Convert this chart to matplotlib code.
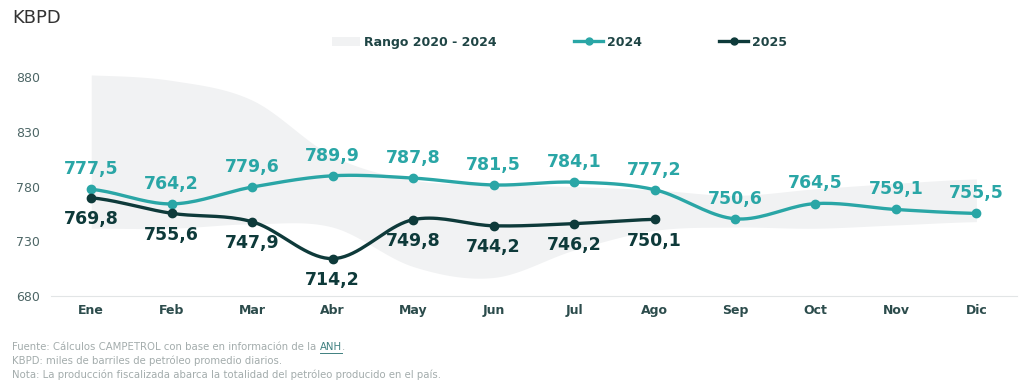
#Import packages
import numpy as np
import matplotlib
matplotlib.use('Agg')
import matplotlib.pyplot as plt
from matplotlib.patches import Patch
from matplotlib.lines import Line2D

#Data
months = ['Ene', 'Feb', 'Mar', 'Abr', 'May', 'Jun', 'Jul', 'Ago', 'Sep', 'Oct', 'Nov', 'Dic']
prod_2024 = [777.5, 764.2, 779.6, 789.9, 787.8, 781.5, 784.1, 777.2, 750.6, 764.5, 759.1, 755.5]
prod_2025 = [769.8, 755.6, 747.9, 714.2, 749.8, 744.2, 746.2, 750.1]
range_max = [882, 877, 859, 808, 786, 782, 780, 777, 772, 778, 783, 787]
range_min = [742, 742, 746, 743, 707, 697, 722, 740, 743, 742, 745, 748]

#Colors
teal = '#2aa6a6'
dark = '#0e3a3a'
band = '#f1f2f3'
label_col = '#2c4c4c'


def smooth(y, n=20):
	#Catmull-Rom curve through the points (just for drawing)
	y = np.asarray(y, dtype=float)
	x = np.arange(len(y), dtype=float)
	p = np.concatenate([[y[0]], y, [y[-1]]])
	xs, ys = [], []
	for i in range(len(y) - 1):
		t = np.linspace(0, 1, n, endpoint=False)
		p0, p1, p2, p3 = p[i], p[i + 1], p[i + 2], p[i + 3]
		yy = 0.5 * ((2 * p1) + (-p0 + p2) * t + (2 * p0 - 5 * p1 + 4 * p2 - p3) * t ** 2
			+ (-p0 + 3 * p1 - 3 * p2 + p3) * t ** 3)
		xs.append(x[i] + t)
		ys.append(yy)
	xs.append([x[-1]])
	ys.append([y[-1]])
	return np.concatenate(xs), np.concatenate(ys)


def main():
	fig = plt.figure(figsize=(10.24, 3.85), dpi=100)
	ax = fig.add_axes([0.0498, 0.231, 0.943, 0.597])

	#Range band
	bx, bmax = smooth(range_max)
	_, bmin = smooth(range_min)
	ax.fill_between(bx, bmin, bmax, color=band, lw=0, zorder=1)

	#2024 line
	x24, y24 = smooth(prod_2024)
	ax.plot(x24, y24, color=teal, lw=2.4, zorder=3)
	ax.plot(range(len(prod_2024)), prod_2024, 'o', color=teal, ms=6, zorder=4)
	for i, v in enumerate(prod_2024):
		ax.annotate(f'{v:.1f}'.replace('.', ','), (i, v), xytext=(0, 8), textcoords='offset points',
			ha='center', va='bottom', color=teal, fontsize=12.5, fontweight='bold')

	#2025 line
	x25, y25 = smooth(prod_2025)
	ax.plot(x25, y25, color=dark, lw=2.4, zorder=5)
	ax.plot(range(len(prod_2025)), prod_2025, 'o', color=dark, ms=6, zorder=6)
	for i, v in enumerate(prod_2025):
		ax.annotate(f'{v:.1f}'.replace('.', ','), (i, v), xytext=(0, -9), textcoords='offset points',
			ha='center', va='top', color=dark, fontsize=12.5, fontweight='bold')

	#Axes
	ax.set_xlim(-0.5, len(months) - 0.5)
	ax.set_ylim(680, 890)
	ax.set_yticks([680, 730, 780, 830, 880])
	ax.set_xticks(range(len(months)))
	ax.set_xticklabels(months, fontsize=9, fontweight='bold', color=label_col)
	ax.tick_params(axis='both', length=0)
	ax.tick_params(axis='x', pad=6)
	for lbl in ax.get_yticklabels():
		lbl.set_fontsize(9)
		lbl.set_color('#4d6666')
		lbl.set_horizontalalignment('left')
	ax.tick_params(axis='y', pad=25)
	for s in ['top', 'right', 'left']:
		ax.spines[s].set_visible(False)
	ax.spines['bottom'].set_color('#e2e5e6')

	#Legend
	handles = [Patch(facecolor=band, edgecolor='none'),
		Line2D([0], [0], color=teal, lw=2.4, marker='o', ms=5),
		Line2D([0], [0], color=dark, lw=2.4, marker='o', ms=5)]
	leg = fig.legend(handles, ['Rango 2020 - 2024', '2024', '2025'], loc='center',
		bbox_to_anchor=(0.546, 0.89), ncol=3, frameon=False, fontsize=9,
		columnspacing=6.2, handlelength=2.3, handletextpad=0.3)
	for t in leg.get_texts():
		t.set_color('#1f4545')
		t.set_fontweight('bold')

	#Title
	fig.text(0.012, 0.953, 'KBPD', fontsize=13, color='#333333', va='center')

	#Footnotes
	foot = '#a3acac'
	fs = 7.3
	t1 = fig.text(0.012, 0.098, 'Fuente: Cálculos CAMPETROL con base en información de la ', fontsize=fs,
		color=foot, va='center')
	fig.canvas.draw()
	bb = t1.get_window_extent()
	x_anh = bb.x1 / fig.bbox.width
	t2 = fig.text(x_anh, 0.098, 'ANH', fontsize=fs, color='#3f8080', va='center')
	fig.canvas.draw()
	bb2 = t2.get_window_extent()
	y_ul = (bb2.y0 - 0.5) / fig.bbox.height
	fig.add_artist(Line2D([bb2.x0 / fig.bbox.width, bb2.x1 / fig.bbox.width], [y_ul, y_ul],
		color='#3f8080', lw=0.7))
	fig.text(bb2.x1 / fig.bbox.width, 0.098, '.', fontsize=fs, color=foot, va='center')
	fig.text(0.012, 0.062, 'KBPD: miles de barriles de petróleo promedio diarios.', fontsize=fs,
		color=foot, va='center')
	fig.text(0.012, 0.026, 'Nota: La producción fiscalizada abarca la totalidad del petróleo producido en el país.',
		fontsize=fs, color=foot, va='center')

	fig.savefig('out.png', dpi=100)


#Execute main script
if __name__ == '__main__':
	main()
